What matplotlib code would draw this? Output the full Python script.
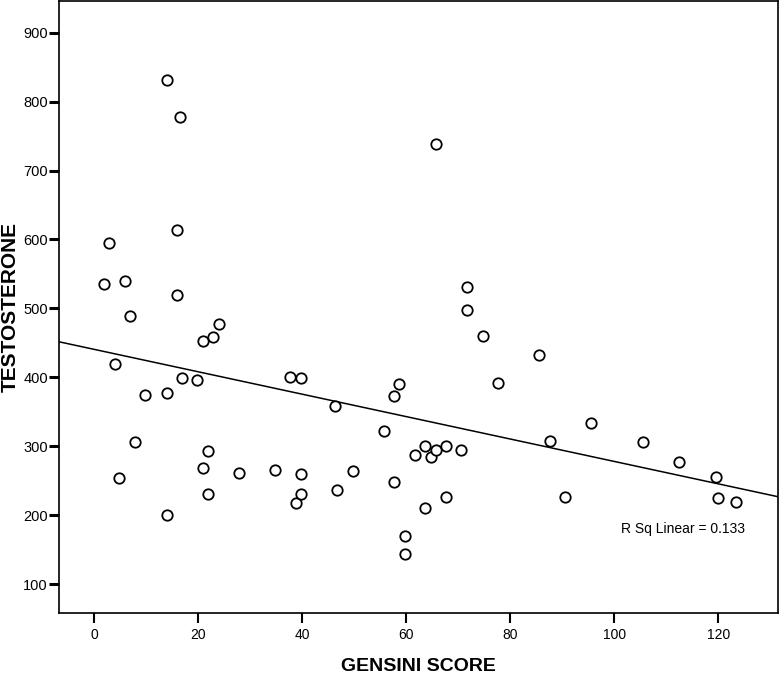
import numpy as np
import matplotlib
matplotlib.use("Agg")
import matplotlib.pyplot as plt

plt.rcParams['font.family'] = ['Liberation Sans', 'DejaVu Sans']

# Gensini score vs testosterone
gensini = [14, 16.4, 65.7, 2.9, 15.9, 1.9, 5.9, 15.9, 6.8, 23.9,
           20.9, 22.8, 3.9, 16.9, 19.8, 9.8, 13.9, 37.7, 39.8, 7.9,
           21.9, 20.9, 27.8, 34.8, 4.8, 21.9, 13.9, 38.8, 39.8, 39.8,
           46.3, 46.7, 49.7, 55.7, 57.7, 58.7, 57.7, 59.7, 59.7, 61.7,
           63.7, 64.7, 65.7, 67.7, 70.6, 63.6, 67.7, 71.7, 71.7, 74.8,
           77.6, 85.6, 87.6, 90.6, 95.5, 105.5, 112.5, 119.5, 120.0, 123.4]
testosterone = [831, 778, 739, 595, 614, 535, 540, 519, 489, 478,
                453, 458, 420, 399, 396, 375, 377, 401, 399, 306,
                293, 268, 261, 266, 254, 230, 200, 217, 231, 259,
                358, 237, 264, 322, 373, 391, 248, 170, 144, 288,
                300, 284, 294, 300, 295, 211, 227, 531, 497, 460,
                392, 432, 308, 226, 333, 306, 277, 256, 225, 219]
r_sq_label = "R Sq Linear = 0.133"

fig = plt.figure(figsize=(7.8, 6.77), dpi=100)
ax = fig.add_axes([0.0756, 0.0945, 0.9218, 0.904])

xlim = (-6.8, 131.5)
ylim = (58, 946)

# linear fit line across the whole plot
slope, intercept = np.polyfit(gensini, testosterone, 1)
xs = np.array(xlim)
ax.plot(xs, slope * xs + intercept, color='black', lw=1.1, zorder=2)

ax.plot(gensini, testosterone, linestyle='none', marker='o', ms=7.5,
        mfc='white', mec='black', mew=1.3, zorder=3)

ax.text(101.4, 180, r_sq_label, fontsize=10, va='center', ha='left')

ax.set_xlim(xlim)
ax.set_ylim(ylim)
ax.set_xticks(range(0, 121, 20))
ax.set_yticks(range(100, 901, 100))
ax.tick_params(axis='both', direction='out', length=7, width=1.5)
ax.tick_params(axis='x', pad=4, labelsize=10)
ax.tick_params(axis='y', width=2.2, pad=1, labelsize=10.5)
for s in ax.spines.values():
    s.set_linewidth(1.2)

ax.set_xlabel("GENSINI SCORE", fontsize=14, fontweight='bold', va='center')
ax.set_ylabel("TESTOSTERONE", fontsize=15, fontweight='bold', va='center')
ax.xaxis.set_label_coords(0.5, -0.087)
ax.yaxis.set_label_coords(-0.068, 0.5)

fig.savefig("out.png", dpi=100)
